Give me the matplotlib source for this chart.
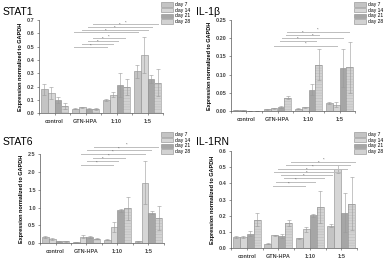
import matplotlib
matplotlib.use("Agg")
import matplotlib.pyplot as plt
import numpy as np
from matplotlib.ticker import FormatStrFormatter
from matplotlib.patches import Patch

plt.rcParams['font.family'] = ['Liberation Sans', 'DejaVu Sans']
plt.rcParams['hatch.linewidth'] = 0.35

groups = ["control", "GTN-HPA", "1:10", "1:5"]
days = ["day 7", "day 14", "day 21", "day 28"]
colors = ["#c4c4c4", "#d6d6d6", "#a6a6a6", "#d2d2d2"]

# values[day][group]
stat1_vals = [[0.18, 0.035, 0.10, 0.315],
              [0.155, 0.045, 0.14, 0.44],
              [0.10, 0.035, 0.215, 0.26],
              [0.055, 0.033, 0.20, 0.23]]
stat1_err = [[0.04, 0.005, 0.005, 0.05],
             [0.045, 0.004, 0.02, 0.135],
             [0.02, 0.004, 0.09, 0.03],
             [0.02, 0.005, 0.06, 0.10]]
stat1_sig = [(2.25, 4.35, 0.667), (2.09, 4.15, 0.649), (1.88, 4.02, 0.625),
             (1.64, 3.69, 0.607), (2.25, 3.27, 0.562), (2.08, 3.05, 0.542),
             (1.88, 2.89, 0.520), (1.64, 2.68, 0.495)]

il1b_vals = [[0.002, 0.005, 0.006, 0.022],
             [0.0015, 0.007, 0.010, 0.017],
             [0.0008, 0.010, 0.058, 0.118],
             [0.0005, 0.036, 0.127, 0.120]]
il1b_err = [[0.0005, 0.001, 0.001, 0.003],
            [0.0005, 0.001, 0.001, 0.007],
            [0.0003, 0.003, 0.015, 0.052],
            [0.0002, 0.004, 0.043, 0.07]]
il1b_sig = [(2.30, 4.31, 0.218), (2.27, 3.35, 0.209), (2.14, 4.12, 0.200),
            (2.08, 3.24, 0.1925), (1.89, 3.91, 0.179)]

stat6_vals = [[0.18, 0.03, 0.10, 0.06],
              [0.12, 0.19, 0.46, 1.70],
              [0.06, 0.18, 0.92, 0.86],
              [0.06, 0.13, 0.98, 0.71]]
stat6_err = [[0.03, 0.005, 0.02, 0.01],
             [0.02, 0.03, 0.13, 0.60],
             [0.01, 0.02, 0.03, 0.05],
             [0.01, 0.02, 0.32, 0.33]]
stat6_sig = [(2.25, 4.32, 2.70), (2.02, 4.08, 2.60), (1.82, 3.89, 2.50),
             (2.20, 3.24, 2.39), (2.02, 3.03, 2.31), (1.82, 2.85, 2.20)]

il1rn_vals = [[0.072, 0.028, 0.062, 0.140],
              [0.070, 0.080, 0.118, 0.490],
              [0.090, 0.075, 0.202, 0.220],
              [0.175, 0.155, 0.255, 0.275]]
il1rn_err = [[0.006, 0.002, 0.004, 0.012],
             [0.006, 0.004, 0.015, 0.025],
             [0.015, 0.012, 0.010, 0.12],
             [0.04, 0.02, 0.10, 0.165]]
il1rn_sig = [(2.42, 4.45, 0.533), (2.26, 4.29, 0.513), (2.00, 4.19, 0.488),
             (1.87, 3.97, 0.472), (2.10, 3.70, 0.451), (2.19, 3.45, 0.433),
             (1.94, 3.16, 0.410), (1.84, 2.84, 0.385)]

fig = plt.figure(figsize=(3.87, 2.60), dpi=100)

panels = [
    dict(title="STAT1", vals=stat1_vals, err=stat1_err, sig=stat1_sig,
         rect=[39/387, 1-113.3/260, 124/387, 93.3/260], ylim=0.7, step=0.1, fmt='%.1f',
         title_xy=(3/387, 1-12/260), leg_xy=(161/387, 1-2/260)),
    dict(title="IL-1β", vals=il1b_vals, err=il1b_err, sig=il1b_sig,
         rect=[231/387, 1-111/260, 124/387, 91/260], ylim=0.25, step=0.05, fmt='%.2f',
         title_xy=(196/387, 1-12/260), leg_xy=(354/387, 1-2/260)),
    dict(title="STAT6", vals=stat6_vals, err=stat6_err, sig=stat6_sig,
         rect=[40/387, 1-243.3/260, 124/387, 89.3/260], ylim=2.5, step=0.5, fmt='%.1f',
         title_xy=(3/387, 1-142/260), leg_xy=(161/387, 1-132/260)),
    dict(title="IL-1RN", vals=il1rn_vals, err=il1rn_err, sig=il1rn_sig,
         rect=[231/387, 1-248.3/260, 126/387, 97.6/260], ylim=0.6, step=0.1, fmt='%.1f',
         title_xy=(196/387, 1-142/260), leg_xy=(354/387, 1-132/260)),
]

x = np.arange(1, len(groups) + 1)
w = 0.22
edge = '#8a8a8a'
for p in panels:
    ax = fig.add_axes(p['rect'])
    handles = []
    for i, d in enumerate(days):
        pos = x + (i - 1.5) * w
        if i == 3:
            ax.bar(pos, p['vals'][i], w, color=colors[i], edgecolor='#bababa',
                   linewidth=0, hatch='------')
        ax.bar(pos, p['vals'][i], w, color=colors[i] if i != 3 else 'none',
               edgecolor=edge, linewidth=0.4,
               yerr=p['err'][i], error_kw=dict(ecolor='#9a9a9a', elinewidth=0.4,
                                                 capsize=1.2, capthick=0.4))
        handles.append(Patch(facecolor=colors[i], edgecolor=edge, linewidth=0.4, label=d))
    for (x0, x1, y) in p['sig']:
        ax.plot([x0, x1], [y, y], color='#bdbdbd', lw=0.7, clip_on=False)
        ax.text((x0 + x1) / 2, y, '*', ha='center', va='bottom', fontsize=3,
                color='#555555', clip_on=False)
    ax.set_xlim(0.5, 4.5)
    ax.set_ylim(0, p['ylim'])
    ax.set_yticks(np.arange(0, p['ylim'] + 1e-9, p['step']))
    ax.yaxis.set_major_formatter(FormatStrFormatter(p['fmt']))
    ax.set_xticks(x)
    ax.set_xticks(np.arange(0.5, 4.6, 1.0), minor=True)
    ax.set_xticklabels(groups, fontsize=4, fontweight='bold')
    for lab in ax.get_yticklabels():
        lab.set_fontsize(4)
        lab.set_fontweight('bold')
    ax.tick_params(axis='both', length=1.5, width=0.4, pad=1.5, colors='#444444')
    ax.tick_params(axis='x', which='minor', length=1.5, width=0.4, colors='#444444')
    ax.tick_params(axis='x', pad=2.5)
    for s in ['top', 'right']:
        ax.spines[s].set_visible(False)
    for s in ['left', 'bottom']:
        ax.spines[s].set_color('#555555')
        ax.spines[s].set_linewidth(0.5)
    ax.set_ylabel("Expression normalized to GAPDH", fontsize=4, fontweight='bold', labelpad=3)
    fig.text(p['title_xy'][0], p['title_xy'][1], p['title'], fontsize=7.5, va='center', ha='left')
    ax.legend(handles=handles, loc='upper left', bbox_to_anchor=p['leg_xy'],
              bbox_transform=fig.transFigure,
              frameon=False, fontsize=3.6, labelspacing=0.15, handlelength=2.4,
              handleheight=1.0, handletextpad=0.4, borderaxespad=0, borderpad=0)

fig.savefig("out.png", dpi=100)
